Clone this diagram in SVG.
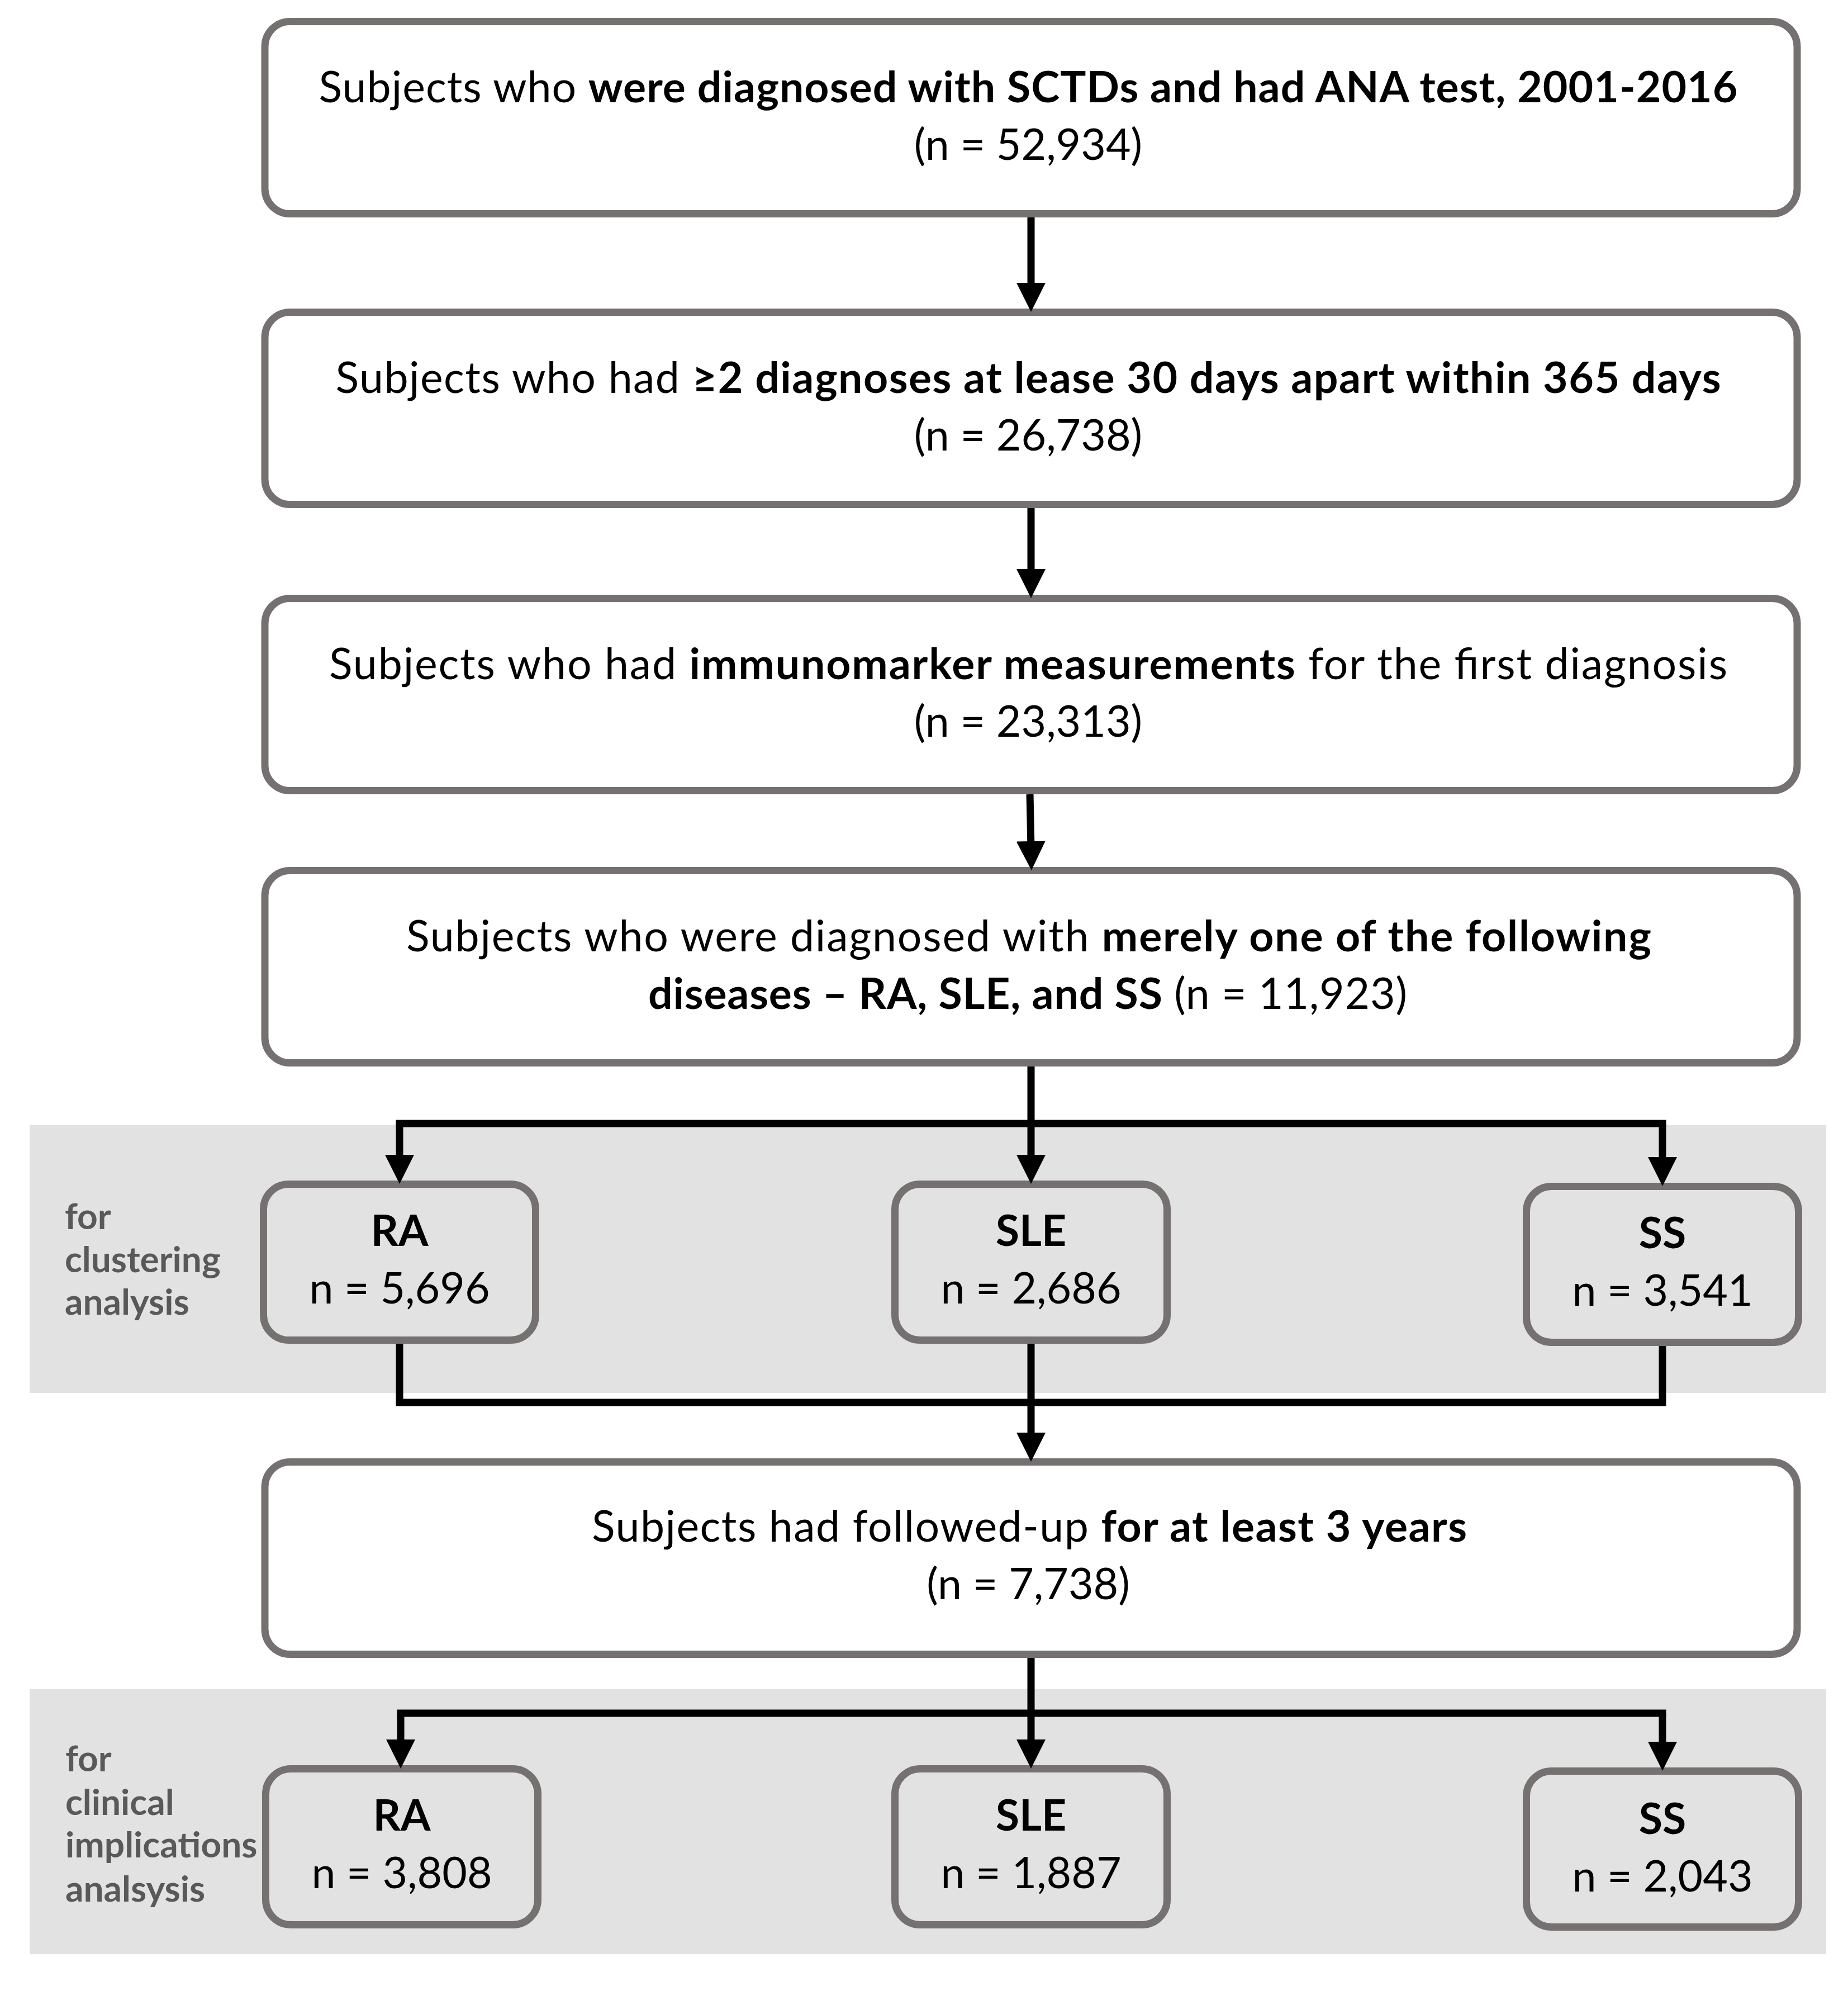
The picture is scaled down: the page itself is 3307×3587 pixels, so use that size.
<svg xmlns="http://www.w3.org/2000/svg" width="3307" height="3587" viewBox="0 0 3307 3587">
<style>
.box{fill:#ffffff;stroke:#767171;stroke-width:13}
.sbox{fill:#e2e2e2;stroke:#767171;stroke-width:13}
.band{fill:#e2e2e2}
.t{font-family:Lato,"Liberation Sans",sans-serif;font-size:77px;fill:#000;text-anchor:middle}
.b{font-weight:bold}
.lab{font-family:Lato,"Liberation Sans",sans-serif;font-size:64px;font-weight:bold;fill:#595959}
.c{fill:none;stroke:#000;stroke-width:13}
.ca{fill:none;stroke:#000;stroke-width:13;marker-end:url(#ah)}
</style>
<defs>
<marker id="ah" markerUnits="userSpaceOnUse" markerWidth="52" markerHeight="52" viewBox="0 0 52 52" refX="12" refY="26" orient="auto">
<path d="M0,0 L52,26 L0,52 z" fill="#000"/>
</marker>
</defs>
<rect width="3307" height="3587" fill="#ffffff"/>
<rect class="band" x="53" y="2013" width="3215" height="479"/>
<rect class="band" x="53" y="3022" width="3215" height="474"/>

<g id="box1">
<rect class="box" x="474" y="38.5" width="2742" height="344" rx="45"/>
<text class="t" x="1840" y="183" textLength="2539">Subjects who <tspan class="b">were diagnosed with SCTDs and had ANA test, 2001-2016</tspan></text>
<text class="t" x="1840" y="286">(n = 52,934)</text>
</g>
<g id="box2">
<rect class="box" x="474" y="558.5" width="2742" height="344" rx="45"/>
<text class="t" x="1840" y="703" textLength="2479">Subjects who had <tspan class="b">≥2 diagnoses at lease 30 days apart within 365 days</tspan></text>
<text class="t" x="1840" y="806">(n = 26,738)</text>
</g>
<g id="box3">
<rect class="box" x="474" y="1070.5" width="2742" height="344" rx="45"/>
<text class="t" x="1840" y="1215" textLength="2502">Subjects who had <tspan class="b">immunomarker measurements</tspan> for the first diagnosis</text>
<text class="t" x="1840" y="1318">(n = 23,313)</text>
</g>
<g id="box4">
<rect class="box" x="474" y="1557.5" width="2742" height="344" rx="45"/>
<text class="t" x="1841" y="1702" textLength="2228">Subjects who were diagnosed with <tspan class="b">merely one of the following</tspan></text>
<text class="t" x="1839" y="1805" textLength="1358"><tspan class="b">diseases – RA, SLE, and SS</tspan> (n = 11,923)</text>
</g>
<g id="box5">
<rect class="box" x="474" y="2615.5" width="2742" height="344" rx="45"/>
<text class="t" x="1842" y="2758" textLength="1566">Subjects had followed-up <tspan class="b">for at least 3 years</tspan></text>
<text class="t" x="1840" y="2861">(n = 7,738)</text>
</g>

<g id="label1">
<text class="lab" x="116" y="2199">for</text>
<text class="lab" x="116" y="2276">clustering</text>
<text class="lab" x="116" y="2352">analysis</text>
</g>
<g id="label2">
<text class="lab" x="117" y="3169">for</text>
<text class="lab" x="117" y="3247">clinical</text>
<text class="lab" x="117" y="3323">implications</text>
<text class="lab" x="117" y="3402">analsysis</text>
</g>

<g id="ra1">
<rect class="sbox" x="471.5" y="2118.5" width="487" height="279" rx="45"/>
<text class="t b" x="715" y="2229">RA</text>
<text class="t" x="715" y="2332">n = 5,696</text>
</g>
<g id="sle1">
<rect class="sbox" x="1601.5" y="2118.5" width="487" height="279" rx="45"/>
<text class="t b" x="1845" y="2229">SLE</text>
<text class="t" x="1845" y="2332">n = 2,686</text>
</g>
<g id="ss1">
<rect class="sbox" x="2731.5" y="2122.5" width="487" height="279" rx="45"/>
<text class="t b" x="2975" y="2233">SS</text>
<text class="t" x="2975" y="2336">n = 3,541</text>
</g>
<g id="ra2">
<rect class="sbox" x="475.5" y="3164.5" width="487" height="279" rx="45"/>
<text class="t b" x="719" y="3275">RA</text>
<text class="t" x="719" y="3378">n = 3,808</text>
</g>
<g id="sle2">
<rect class="sbox" x="1601.5" y="3164.5" width="487" height="279" rx="45"/>
<text class="t b" x="1845" y="3275">SLE</text>
<text class="t" x="1845" y="3378">n = 1,887</text>
</g>
<g id="ss2">
<rect class="sbox" x="2731.5" y="3168.5" width="487" height="279" rx="45"/>
<text class="t b" x="2975" y="3281">SS</text>
<text class="t" x="2975" y="3384">n = 2,043</text>
</g>

<g id="connectors">
<path class="ca" d="M1845,389 V518"/>
<path class="ca" d="M1845,909 V1030"/>
<path class="ca" d="M1843,1421 L1845,1517"/>
<path class="c" d="M715,2010 H2975" stroke-linecap="square"/>
<path class="ca" d="M1845,1908 V2078"/>
<path class="ca" d="M715,2010 V2078"/>
<path class="ca" d="M2975,2010 V2082"/>
<path class="c" d="M715,2404 V2509 H2975 V2408"/>
<path class="ca" d="M1845,2404 V2575"/>
<path class="c" d="M717,3065 H2975" stroke-linecap="square"/>
<path class="ca" d="M1845,2966 V3124"/>
<path class="ca" d="M717,3065 V3124"/>
<path class="ca" d="M2975,3065 V3128"/>
</g>
</svg>
